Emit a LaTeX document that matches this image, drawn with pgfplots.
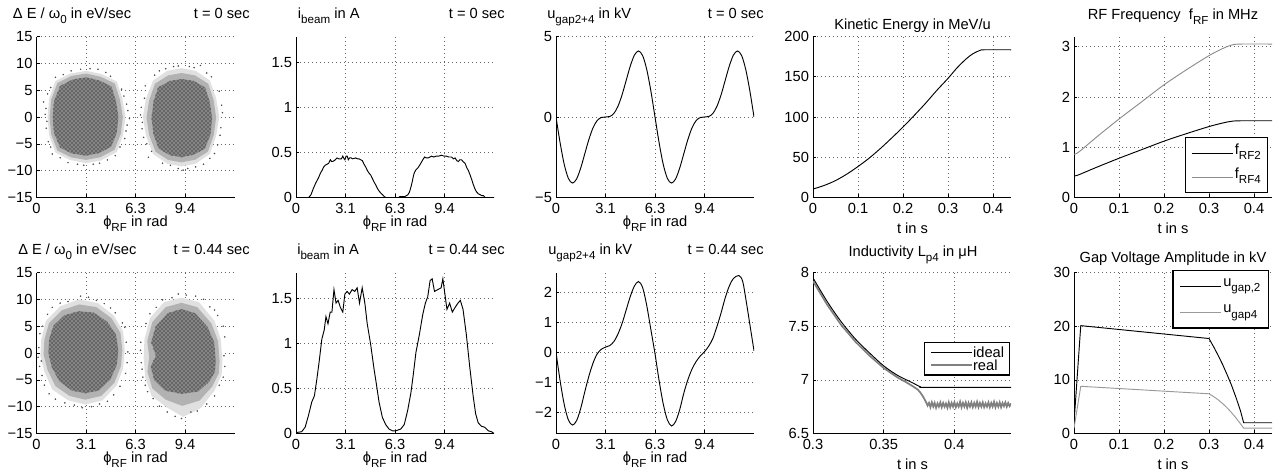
\documentclass[border=0pt]{standalone}
\usepackage{fontspec}
\setmainfont{Liberation Sans}
\usepackage{pgfplots}
\pgfplotsset{compat=1.18}
\usetikzlibrary{patterns}

\newcommand{\sub}[1]{\raisebox{-0.7ex}{\fontsize{8.7}{8.7}\selectfont #1}}

\pgfplotsset{
  panel/.style={
    scale only axis, width=148.5pt, height=120.75pt, anchor=south west,
    axis lines*=left, axis line style={line width=0.6pt},
    tick align=inside, major tick length=2.5pt, tick style={black, line width=0.5pt},
    grid=major, major grid style={black!60, line width=0.5pt, dash pattern=on 0.5pt off 2.5pt},
    /pgf/number format/assume math mode=true,
    tick label style={font=\fontsize{11}{13}\selectfont},
    xticklabel style={yshift=-0.5pt},
    yticklabel style={xshift=0.5pt},
  },
  phi/.style={xmin=0, xmax=12.566, xtick={0,3.1416,6.2832,9.4248}, xticklabels={0,3.1,6.3,9.4}},
  tsec/.style={xmin=0, xmax=0.44, xtick={0,0.1,0.2,0.3,0.4}},
  curve/.style={black, line width=0.7pt},
  halo/.style={fill=black!12, draw=none},
  mid/.style={fill=black!30, draw=none},
  core/.style={fill=black!48, draw=none, postaction={pattern=crosshatch dots, pattern color=black}},
  dots/.style={only marks, mark=*, mark size=0.35pt, black!70},
  leg/.style={legend cell align=left,
    legend image code/.code={\draw[##1] (0pt,0pt) -- (31pt,0pt);},
    legend style={draw=black, line width=0.9pt, fill=white,
      font=\fontsize{11}{13}\selectfont}},
}

\begin{document}
\begin{tikzpicture}[font=\fontsize{11}{13}\selectfont]

% ---------- row 1 ----------
\begin{axis}[panel, phi, at={(27.375pt,-148.125pt)}, ymin=-15, ymax=15,
  ytick={-15,-10,-5,0,5,10,15}, yticklabels={−15,−10,−5,0,5,10,15}]
\addplot[halo] coordinates {(5.65,0) (5.45,3.4) (5.1,6.6) (4.15,8.0) (3.15,8.6) (2.15,8.1) (1.2,6.7) (0.8,3.4) (0.7,0) (0.8,-3.4) (1.2,-6.6) (2.1,-8.0) (3.15,-8.6) (4.1,-8.1) (5.1,-6.5) (5.5,-3.3)} -- cycle;
\addplot[mid] coordinates {(5.48,0) (5.3,3.2) (4.97,6.23) (4.08,7.49) (3.15,8.1) (2.22,7.65) (1.33,6.35) (0.93,3.2) (0.83,0) (0.93,-3.2) (1.33,-6.25) (2.18,-7.5) (3.15,-8.0) (4.05,-7.5) (4.95,-6.1) (5.35,-3.1)} -- cycle;
\addplot[core] coordinates {(5.2,0) (5.05,3.0) (4.75,5.7) (4.0,6.8) (3.15,7.4) (2.3,7.0) (1.5,5.8) (1.12,3.0) (1.02,0) (1.12,-3.0) (1.5,-5.7) (2.25,-6.8) (3.15,-7.2) (4.0,-6.7) (4.75,-5.5) (5.1,-2.9)} -- cycle;
\addplot[halo] coordinates {(11.6,0) (11.4,3.5) (11.0,6.8) (10.1,8.6) (9.2,9.1) (8.3,8.6) (7.4,6.8) (6.95,3.5) (6.75,0) (6.95,-3.5) (7.4,-6.9) (8.3,-8.7) (9.2,-9.2) (10.1,-8.7) (11.0,-6.9) (11.4,-3.5)} -- cycle;
\addplot[mid] coordinates {(11.4,-0.1) (11.24,3.15) (10.9,6.2) (10.06,7.75) (9.21,8.2) (8.35,7.75) (7.52,6.2) (7.15,3.15) (6.98,-0.1) (7.15,-3.35) (7.55,-6.45) (8.35,-8.0) (9.21,-8.45) (10.08,-7.95) (10.88,-6.45) (11.25,-3.35)} -- cycle;
\addplot[core] coordinates {(11.15,-0.2) (11.0,2.8) (10.7,5.5) (10.0,6.7) (9.22,7.1) (8.45,6.7) (7.72,5.5) (7.42,2.8) (7.3,-0.2) (7.42,-3.2) (7.76,-5.9) (8.45,-7.1) (9.22,-7.5) (10.0,-7.0) (10.7,-5.9) (11.05,-3.2)} -- cycle;
\addplot[dots] coordinates {(0.55,0.5) (0.62,-2.1) (5.8,1.2) (5.75,-1.5) (3.4,9.0) (2.2,8.6) (4.4,8.3) (1.5,-7.6) (4.5,-8.0) (3.0,-9.0) (0.9,5.5) (5.4,5.2) (0.75,-4.6) (5.6,-4.0) (2.6,-8.8) (3.9,8.9) (1.2,7.4) (5.0,-7.2) (0.45,2.8) (5.9,-0.3)
 (0.6,1.6) (0.66,-0.8) (5.72,2.4) (5.68,-2.6) (2.8,8.9) (4.7,7.6) (1.7,7.9) (1.0,-6.9) (3.6,-8.8) (5.3,-5.6) (0.7,4.3) (5.55,3.9) (0.9,-5.6) (2.0,-8.5) (4.0,-8.6)
 (6.6,0.4) (6.7,-2.2) (6.85,3.5) (11.8,0.8) (11.7,-2.0) (9.0,9.5) (10.0,9.2) (8.2,9.0) (7.5,7.8) (11.1,7.5) (9.6,-9.6) (8.5,-9.0) (10.6,-8.8) (7.1,-7.5) (11.3,-6.8) (6.9,5.8) (11.6,4.8) (9.3,-9.9) (10.4,9.6) (7.0,-5.0)
 (6.65,1.8) (6.72,-1.0) (11.75,2.2) (11.65,-3.4) (8.7,9.4) (9.7,9.4) (10.8,8.2) (7.8,8.6) (7.3,-6.4) (8.0,-8.6) (9.0,-9.6) (10.1,-9.3) (11.0,-7.7) (11.5,-5.2) (6.8,-3.8)};
\end{axis}

\begin{axis}[panel, phi, at={(222pt,-148.125pt)}, ymin=0, ymax=1.79, ytick={0,0.5,1,1.5}]
\addplot[curve] coordinates {(0,0) (0.5,0) (0.8,0) (0.95,0.03) (1.1,0.1) (1.25,0.16) (1.43,0.22) (1.55,0.27) (1.65,0.3) (1.76,0.34) (1.86,0.36) (1.97,0.37) (2.07,0.38) (2.18,0.42) (2.26,0.40) (2.33,0.40) (2.42,0.41) (2.5,0.42) (2.6,0.44) (2.71,0.43) (2.8,0.43) (2.88,0.43) (2.97,0.46) (3.05,0.43) (3.1,0.42) (3.18,0.46) (3.25,0.46) (3.32,0.42) (3.4,0.44) (3.5,0.44) (3.6,0.43) (3.78,0.44) (3.9,0.43) (4.0,0.43) (4.1,0.42) (4.21,0.41) (4.32,0.37) (4.42,0.34) (4.53,0.30) (4.64,0.27) (4.74,0.25) (4.85,0.21) (4.96,0.17) (5.06,0.14) (5.17,0.1) (5.28,0.07) (5.38,0.05) (5.5,0.03) (5.6,0.01) (5.7,0) (6.5,0) (6.6,0.01) (6.9,0.01) (7.0,0.02) (7.1,0.03) (7.2,0.06) (7.3,0.12) (7.37,0.17) (7.45,0.24) (7.52,0.28) (7.62,0.31) (7.74,0.33) (7.85,0.36) (7.95,0.39) (8.05,0.42) (8.16,0.45) (8.27,0.44) (8.38,0.44) (8.5,0.45) (8.6,0.46) (8.75,0.45) (8.9,0.46) (9.05,0.46) (9.23,0.47) (9.4,0.46) (9.55,0.46) (9.7,0.45) (9.87,0.45) (10.0,0.43) (10.1,0.44) (10.2,0.41) (10.3,0.40) (10.4,0.42) (10.5,0.42) (10.6,0.40) (10.73,0.38) (10.84,0.33) (10.94,0.30) (11.05,0.25) (11.15,0.20) (11.26,0.14) (11.37,0.09) (11.47,0.06) (11.58,0.04) (11.7,0.03) (11.8,0.02) (11.9,0.02) (12.0,0) (12.566,0)};
\end{axis}

\begin{axis}[panel, phi, at={(417pt,-148.125pt)}, ymin=-5, ymax=5,
  ytick={-5,0,5}, yticklabels={−5,0,5}]
\addplot[curve, smooth] coordinates {(0,0) (0.2618,-1.608) (0.5236,-2.948) (0.7854,-3.814) (1.0472,-4.105) (1.309,-3.842) (1.5708,-3.16) (1.8326,-2.262) (2.0944,-1.368) (2.3562,-0.654) (2.618,-0.212) (2.8798,-0.028) (3.1416,0) (3.4034,0.028) (3.6652,0.212) (3.927,0.654) (4.1888,1.368) (4.4506,2.262) (4.7124,3.16) (4.9742,3.842) (5.236,4.105) (5.4978,3.814) (5.7596,2.948) (6.0214,1.608) (6.2832,0)
 (6.545,-1.608) (6.8068,-2.948) (7.0686,-3.814) (7.3304,-4.105) (7.5922,-3.842) (7.854,-3.16) (8.1158,-2.262) (8.3776,-1.368) (8.6394,-0.654) (8.9012,-0.212) (9.163,-0.028) (9.4248,0) (9.6866,0.028) (9.9484,0.212) (10.21,0.654) (10.472,1.368) (10.734,2.262) (10.996,3.16) (11.257,3.842) (11.519,4.105) (11.781,3.814) (12.043,2.948) (12.305,1.608) (12.566,0)};
\end{axis}

\begin{axis}[panel, tsec, at={(609.75pt,-148.125pt)}, ymin=0, ymax=200, ytick={0,50,100,150,200}]
\addplot[curve, smooth] coordinates {(0,10.5) (0.025,15) (0.05,21) (0.075,29) (0.1,38.5) (0.125,49) (0.15,61) (0.175,74) (0.2,87.5) (0.225,102) (0.25,117) (0.275,133) (0.3,148) (0.32,161) (0.34,172) (0.355,178.5) (0.37,182.5) (0.38,183.5) (0.44,183.5)};
\end{axis}

\begin{axis}[panel, tsec, leg, at={(805.5pt,-148.125pt)}, ymin=0, ymax=3.2, ytick={0,1,2,3},
  legend style={at={(0.98,0.028)}, anchor=south east, row sep=2pt, inner xsep=4pt, inner ysep=3.5pt,
    nodes={inner sep=1pt, text height=8pt, text depth=6pt}}]
\addplot[curve, smooth] coordinates {(0,0.43) (0.01,0.45) (0.05,0.6) (0.1,0.78) (0.15,0.95) (0.2,1.12) (0.25,1.27) (0.3,1.41) (0.33,1.48) (0.35,1.515) (0.37,1.525) (0.44,1.525)};
\addlegendentry{f\sub{RF2}}
\addplot[black!45, line width=0.7pt, smooth] coordinates {(0,0.86) (0.01,0.9) (0.05,1.2) (0.1,1.56) (0.15,1.9) (0.2,2.24) (0.25,2.54) (0.3,2.82) (0.33,2.96) (0.35,3.03) (0.37,3.05) (0.44,3.05)};
\addlegendentry{f\sub{RF4}}
\end{axis}

% ---------- row 2 ----------
\begin{axis}[panel, phi, at={(27.375pt,-325.125pt)}, ymin=-15, ymax=15,
  ytick={-15,-10,-5,0,5,10,15}, yticklabels={−15,−10,−5,0,5,10,15}]
\addplot[halo] coordinates {(5.6,0.5) (5.5,4.0) (4.9,7.0) (3.9,9.3) (2.7,10.0) (1.5,8.7) (0.6,6.0) (0.3,2.5) (0.25,-0.5) (0.5,-3.5) (1.0,-6.8) (2.0,-8.8) (3.1,-9.6) (4.2,-8.8) (5.1,-6.0) (5.5,-2.8)} -- cycle;
\addplot[mid] coordinates {(5.45,0.5) (5.33,3.75) (4.75,6.5) (3.8,8.55) (2.7,9.05) (1.6,7.95) (0.8,5.6) (0.5,2.5) (0.45,-0.25) (0.7,-3.15) (1.2,-6.15) (2.1,-8.0) (3.1,-8.7) (4.1,-8.0) (4.95,-5.5) (5.35,-2.5)} -- cycle;
\addplot[core] coordinates {(5.2,0.5) (5.05,3.4) (4.5,5.8) (3.65,7.5) (2.7,7.8) (1.75,7.0) (1.08,5.1) (0.8,2.5) (0.75,0) (0.98,-2.7) (1.46,-5.3) (2.25,-7.0) (3.1,-7.5) (3.95,-7.0) (4.7,-4.9) (5.1,-2.2)} -- cycle;
\addplot[halo] coordinates {(11.8,-1.5) (11.7,2.5) (11.3,6.0) (10.3,9.5) (9.2,10.3) (8.1,9.5) (7.2,6.5) (6.85,2.5) (6.8,-1.0) (6.9,-4.5) (7.3,-8.0) (8.3,-10.2) (9.3,-11.9) (10.4,-10.3) (11.3,-7.0) (11.75,-4.0)} -- cycle;
\addplot[mid] coordinates {(11.62,-1.5) (11.52,2.25) (11.1,5.5) (10.2,8.55) (9.2,9.35) (8.2,8.55) (7.35,5.75) (7.03,2.25) (7.15,-0.75) (7.04,-3.5) (7.35,-6.6) (8.2,-8.7) (9.25,-9.85) (10.35,-8.85) (11.15,-6.25) (11.57,-3.75)} -- cycle;
\addplot[core] coordinates {(11.38,-1.5) (11.28,2.0) (10.85,4.9) (10.08,7.4) (9.2,8.2) (8.32,7.4) (7.56,4.9) (7.28,2.0) (7.58,-0.5) (7.25,-2.5) (7.48,-5.1) (8.15,-7.0) (9.2,-7.6) (10.25,-7.2) (10.95,-5.4) (11.33,-3.5)} -- cycle;
\addplot[dots] coordinates {(0.15,1.0) (0.2,-2.5) (0.4,5.0) (1.0,8.5) (2.0,9.6) (3.3,10.4) (4.3,9.2) (5.0,7.5) (5.7,2.0) (5.75,-1.8) (5.3,-6.2) (4.5,-9.0) (3.5,-10.0) (2.4,-9.7) (1.2,-8.6) (0.5,-6.0) (0.35,-4.2) (5.6,4.8)
 (0.22,3.6) (0.1,-0.8) (0.7,7.2) (1.5,9.3) (2.8,10.6) (3.8,9.8) (4.7,8.4) (5.45,5.6) (5.8,0.2) (5.65,-3.8) (4.9,-7.8) (4.0,-9.5) (2.9,-10.2) (1.8,-9.3) (0.8,-7.6) (0.3,-1.5)
 (6.6,0.5) (6.7,-3.0) (6.95,5.5) (7.6,8.5) (8.6,10.3) (9.5,10.8) (10.6,10.0) (11.5,7.0) (11.95,3.0) (11.95,-2.5) (11.6,-6.0) (10.8,-9.5) (9.8,-11.0) (9.2,-12.2) (8.3,-11.0) (7.4,-8.5) (6.9,-6.0) (11.0,8.6)
 (6.62,2.0) (6.65,-1.8) (7.2,7.3) (8.0,9.9) (9.0,11.0) (10.1,10.6) (11.3,8.0) (11.85,5.0) (11.9,-0.5) (11.85,-4.5) (11.3,-8.0) (10.2,-10.8) (8.8,-11.8) (7.8,-9.9) (7.05,-7.2) (6.75,-4.5)};
\end{axis}

\begin{axis}[panel, phi, at={(222pt,-325.125pt)}, ymin=0, ymax=1.79, ytick={0,0.5,1,1.5}]
\addplot[curve] coordinates {(0,0.01) (0.36,0.02) (0.58,0.07) (0.79,0.2) (1.0,0.35) (1.17,0.42) (1.32,0.6) (1.47,0.8) (1.64,1.05) (1.79,1.15) (1.9,1.3) (2.03,1.22) (2.17,1.35) (2.28,1.35) (2.41,1.6) (2.54,1.45) (2.67,1.48) (2.82,1.4) (2.97,1.35) (3.1,1.55) (3.24,1.58) (3.39,1.55) (3.56,1.6) (3.73,1.58) (3.88,1.62) (4.03,1.45) (4.2,1.62) (4.37,1.45) (4.52,1.22) (4.73,1.0) (4.95,0.72) (5.1,0.55) (5.27,0.35) (5.48,0.18) (5.69,0.1) (5.9,0.05) (6.12,0.03) (6.33,0.03) (6.65,0.05) (6.87,0.1) (7.08,0.25) (7.29,0.45) (7.44,0.65) (7.61,0.9) (7.83,1.1) (8.04,1.32) (8.21,1.45) (8.36,1.52) (8.51,1.7) (8.64,1.72) (8.79,1.58) (9.0,1.6) (9.21,1.62) (9.32,1.72) (9.45,1.55) (9.58,1.38) (9.75,1.45) (9.92,1.35) (10.09,1.4) (10.28,1.45) (10.43,1.48) (10.6,1.38) (10.81,1.1) (11.02,0.75) (11.24,0.42) (11.4,0.22) (11.56,0.12) (11.77,0.08) (11.98,0.07) (12.2,0.03) (12.41,0.02) (12.566,0)};
\end{axis}

\begin{axis}[panel, phi, at={(417pt,-325.125pt)}, ymin=-2.7, ymax=2.65,
  ytick={-2,-1,0,1,2}, yticklabels={−2,−1,0,1,2}]
\addplot[curve, smooth] coordinates {(0,0) (0.2618,-0.95) (0.5236,-1.74) (0.7854,-2.25) (1.0472,-2.42) (1.309,-2.27) (1.5708,-1.86) (1.8326,-1.30) (2.0944,-0.78) (2.3562,-0.35) (2.618,-0.05) (2.8798,0.10) (3.1416,0.17) (3.4034,0.22) (3.6652,0.35) (3.927,0.60) (4.1888,0.95) (4.4506,1.40) (4.7124,1.85) (4.9742,2.20) (5.236,2.35) (5.4978,2.15) (5.7596,1.55) (6.0214,0.75) (6.2832,-0.05)
 (6.545,-0.95) (6.8068,-1.72) (7.0686,-2.25) (7.3304,-2.45) (7.5922,-2.30) (7.854,-1.90) (8.1158,-1.35) (8.3776,-0.90) (8.6394,-0.55) (8.9012,-0.30) (9.163,-0.12) (9.4248,0.02) (9.6866,0.20) (9.9484,0.45) (10.21,0.85) (10.472,1.30) (10.734,1.80) (10.996,2.20) (11.257,2.45) (11.6,2.55) (11.85,2.35) (12.1,1.60) (12.34,0.80) (12.566,0.05)};
\end{axis}

\begin{axis}[panel, leg, at={(609.75pt,-325.125pt)}, xmin=0.3, xmax=0.44, xtick={0.3,0.35,0.4},
  ymin=6.5, ymax=8, ytick={6.5,7,7.5,8}, reverse legend,
  legend style={at={(0.995,0.36)}, anchor=south east, row sep=1pt, inner xsep=4pt, inner ysep=3pt,
    nodes={inner sep=0pt, text height=8.2pt, text depth=0.6pt}}]
\addplot[black!50, line width=1.3pt] coordinates {(0.30,7.92) (0.31,7.70) (0.32,7.51) (0.33,7.355) (0.34,7.225) (0.35,7.11) (0.36,7.02) (0.365,6.985) (0.37,6.945) (0.374,6.91) (0.376,6.88) (0.378,6.84) (0.38,6.79) (0.381,6.76)
 (0.382,6.785) (0.383,6.745) (0.384,6.79) (0.385,6.75) (0.386,6.785) (0.387,6.74) (0.388,6.78) (0.389,6.75) (0.390,6.79) (0.391,6.745) (0.392,6.785) (0.393,6.75) (0.394,6.78) (0.395,6.74) (0.396,6.79) (0.397,6.745) (0.398,6.785) (0.399,6.75) (0.400,6.79) (0.401,6.745) (0.402,6.78) (0.403,6.75) (0.404,6.795) (0.405,6.745) (0.406,6.785) (0.407,6.75) (0.408,6.79) (0.409,6.74) (0.410,6.785) (0.411,6.75) (0.412,6.79) (0.413,6.745) (0.414,6.785) (0.415,6.75) (0.416,6.795) (0.417,6.745) (0.418,6.785) (0.419,6.75) (0.420,6.79) (0.421,6.745) (0.422,6.78) (0.423,6.75) (0.424,6.79) (0.425,6.745) (0.426,6.785) (0.427,6.75) (0.428,6.795) (0.429,6.745) (0.430,6.785) (0.431,6.75) (0.432,6.79) (0.433,6.745) (0.434,6.785) (0.435,6.755) (0.436,6.79) (0.437,6.75) (0.438,6.785) (0.439,6.755) (0.440,6.78)};
\addlegendentry{real}
\addplot[curve, smooth] coordinates {(0.30,7.95) (0.31,7.73) (0.32,7.54) (0.33,7.38) (0.34,7.25) (0.35,7.13) (0.36,7.04) (0.37,6.975) (0.376,6.935) (0.38,6.93) (0.44,6.93)};
\addlegendentry{ideal}
\end{axis}

\begin{axis}[panel, tsec, leg, at={(805.5pt,-325.125pt)}, ymin=0, ymax=30, ytick={0,10,20,30},
  legend style={at={(0.985,1.015)}, anchor=north east, row sep=2pt, inner xsep=5pt, inner ysep=2.5pt,
    nodes={inner sep=1pt, text height=8pt, text depth=8pt}}]
\addplot[curve] coordinates {(0,2) (0.015,20.1) (0.3,17.7) (0.31,16.2) (0.32,14.6) (0.33,12.9) (0.34,11) (0.35,9) (0.36,6.7) (0.37,4.2) (0.377,2) (0.44,2)};
\addlegendentry{u\sub{gap,2}}
\addplot[black!40, line width=0.7pt] coordinates {(0,1) (0.015,8.8) (0.3,7.4) (0.31,6.9) (0.32,6.3) (0.33,5.6) (0.34,4.8) (0.35,3.9) (0.36,2.9) (0.37,1.8) (0.377,1.0) (0.44,1.0)};
\addlegendentry{u\sub{gap4}}
\end{axis}

% ---------- titles and labels ----------
\begin{scope}[x=0.75pt, y=-0.75pt]
\node[anchor=base west, inner sep=0pt] at (12.7,18) {Δ E / ω\sub{0} in eV/sec};
\node[anchor=base east, inner sep=0pt] at (250,18) {t = 0 sec};
\node[anchor=base west, inner sep=0pt] at (297.7,18) {i\sub{beam} in A};
\node[anchor=base east, inner sep=0pt] at (505,18) {t = 0 sec};
\node[anchor=base west, inner sep=0pt] at (547,18) {u\sub{gap2+4} in kV};
\node[anchor=base east, inner sep=0pt] at (764,18) {t = 0 sec};
\node[anchor=base, inner sep=0pt] at (912.5,29) {Kinetic Energy in MeV/u};
\node[anchor=base, inner sep=0pt] at (1173,19) {RF Frequency\ \ f\sub{RF} in MHz};

\node[anchor=base west, inner sep=0pt] at (18,254) {Δ E / ω\sub{0} in eV/sec};
\node[anchor=base east, inner sep=0pt] at (250,254) {t = 0.44 sec};
\node[anchor=base west, inner sep=0pt] at (297,254) {i\sub{beam} in A};
\node[anchor=base east, inner sep=0pt] at (505,254) {t = 0.44 sec};
\node[anchor=base west, inner sep=0pt] at (548,254) {u\sub{gap2+4} in kV};
\node[anchor=base east, inner sep=0pt] at (764,254) {t = 0.44 sec};
\node[anchor=base, inner sep=0pt] at (913,256) {Inductivity L\sub{p4} in μH};
\node[anchor=base, inner sep=0pt] at (1173,262) {Gap Voltage Amplitude in kV};

\foreach \cx in {135.5,395,655} {
  \node[anchor=base, inner sep=0pt] at (\cx,226.5) {ϕ\sub{RF} in rad};
  \node[anchor=base, inner sep=0pt] at (\cx,462.5) {ϕ\sub{RF} in rad};
}
\foreach \cx in {912.5,1173} {
  \node[anchor=base, inner sep=0pt] at (\cx,233.5) {t in s};
  \node[anchor=base, inner sep=0pt] at (\cx,469.5) {t in s};
}
\end{scope}

\pgfresetboundingbox
\path[use as bounding box] (0pt,0pt) rectangle (954.75pt,-356.25pt);
\end{tikzpicture}
\end{document}
